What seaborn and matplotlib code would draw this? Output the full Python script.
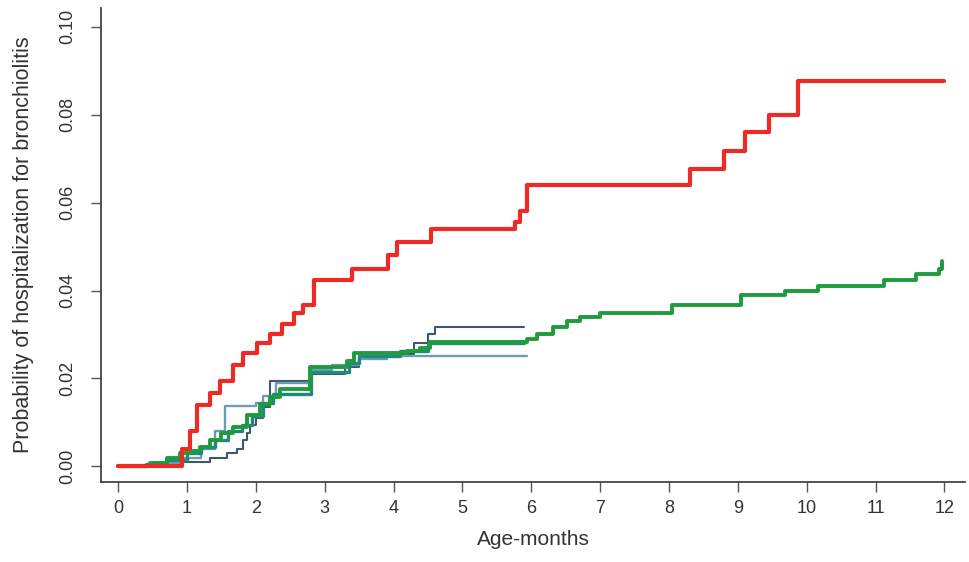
import pandas as pd
import seaborn as sns
import matplotlib.pyplot as plt

# Cumulative probability of hospitalization (step curves)
red_t = [0, 0.78, 0.93, 1.05, 1.15, 1.34, 1.48, 1.67, 1.82, 2.02, 2.21, 2.38, 2.55, 2.69, 2.84,
         3.40, 3.92, 4.05, 4.55, 5.77, 5.84, 5.94, 8.31, 8.80, 9.11, 9.45, 9.87, 12.0]
red_p = [0, 0.0, 0.004, 0.008, 0.014, 0.0166, 0.0195, 0.023, 0.0257, 0.028, 0.030, 0.0325, 0.0348, 0.0366, 0.0425,
         0.045, 0.048, 0.051, 0.054, 0.0555, 0.058, 0.064, 0.0677, 0.0718, 0.076, 0.080, 0.0877, 0.0877]

green_t = [0, 0.47, 0.71, 0.9, 1.05, 1.19, 1.34, 1.5, 1.67, 1.87, 2.06, 2.2, 2.35, 2.79, 3.33, 3.42, 4.2,
           4.39, 4.53, 5.94, 6.09, 6.32, 6.52, 6.71, 7.0, 8.05, 9.04, 9.69, 10.17, 11.12, 11.58, 11.92, 11.97]
green_p = [0, 0.0007, 0.0018, 0.003, 0.0036, 0.0043, 0.006, 0.0075, 0.0089, 0.0116, 0.0143, 0.0157, 0.0177, 0.0225, 0.024, 0.0257, 0.0262,
           0.027, 0.0282, 0.029, 0.030, 0.0316, 0.033, 0.034, 0.0348, 0.0366, 0.0389, 0.040, 0.0411, 0.0425, 0.0438, 0.045, 0.0468]

slate_t = [0, 0.5, 0.9, 1.34, 1.58, 1.73, 1.82, 1.87, 1.92, 2.0, 2.1, 2.2, 2.8, 3.3, 3.5, 4.1, 4.3, 4.5, 4.6, 5.89]
slate_p = [0, 0.0005, 0.001, 0.0018, 0.003, 0.004, 0.006, 0.0077, 0.0093, 0.011, 0.0135, 0.0195, 0.021, 0.0225, 0.025, 0.0255, 0.028, 0.030, 0.0316, 0.0316]

steel_t = [0, 0.5, 0.9, 1.2, 1.4, 1.55, 2.0, 2.1, 2.3, 2.8, 3.1, 3.5, 3.9, 5.94]
steel_p = [0, 0.0008, 0.002, 0.004, 0.008, 0.0138, 0.0145, 0.016, 0.019, 0.022, 0.023, 0.0245, 0.0252, 0.0252]

teal_t = [0, 0.4, 0.7, 1.0, 1.2, 1.4, 1.6, 1.8, 1.95, 2.1, 2.25, 2.8, 3.35, 3.5, 4.1, 4.5, 5.9]
teal_p = [0, 0.0005, 0.0015, 0.003, 0.0045, 0.006, 0.008, 0.0095, 0.0115, 0.0145, 0.0165, 0.0215, 0.0235, 0.025, 0.0262, 0.028, 0.028]

x_ticks = list(range(0, 13))
y_ticks = [0.00, 0.02, 0.04, 0.06, 0.08, 0.10]

sns.set_style("ticks")
plt.rcParams['font.family'] = ['Liberation Sans', 'DejaVu Sans']

fig = plt.figure(figsize=(9.7, 5.62), dpi=100)
ax = fig.add_axes([0.104, 0.142, 0.891, 0.844])

curves = [
    (slate_t, slate_p, '#3d5868', 1.5),
    (steel_t, steel_p, '#6e9db3', 1.7),
    (teal_t, teal_p, '#1d8a7c', 2.4),
    (green_t, green_p, '#1e9b3d', 2.8),
    (red_t, red_p, '#ee2a24', 3.0),
]
for t, p, col, lw in curves:
    df = pd.DataFrame({'age': t, 'prob': p})
    sns.lineplot(data=df, x='age', y='prob', ax=ax, color=col, linewidth=lw,
                 drawstyle='steps-post', estimator=None)

ax.set_xlim(-0.25, 12.3)
ax.set_ylim(-0.0036, 0.1043)
ax.set_xticks(x_ticks)
ax.set_xticklabels([str(v) for v in x_ticks])
ax.set_yticks(y_ticks)
ax.set_yticklabels([f'{v:.2f}' for v in y_ticks], rotation=90, va='center')

for side in ['top', 'right']:
    ax.spines[side].set_visible(False)
for side in ['left', 'bottom']:
    ax.spines[side].set_color('#444444')
    ax.spines[side].set_linewidth(1.3)

ax.tick_params(axis='both', length=7, width=1.0, color='#555555', labelsize=13,
               labelcolor='#333333')
ax.tick_params(axis='y', pad=11)
ax.tick_params(axis='x', pad=6)

ax.set_xlabel('Age-months', fontsize=15, color='#333333', labelpad=9)
ax.set_ylabel('Probability of hospitalization for bronchiolitis', fontsize=15.5,
              color='#333333', labelpad=18)

fig.savefig('out.png', dpi=100)
plt.close(fig)
